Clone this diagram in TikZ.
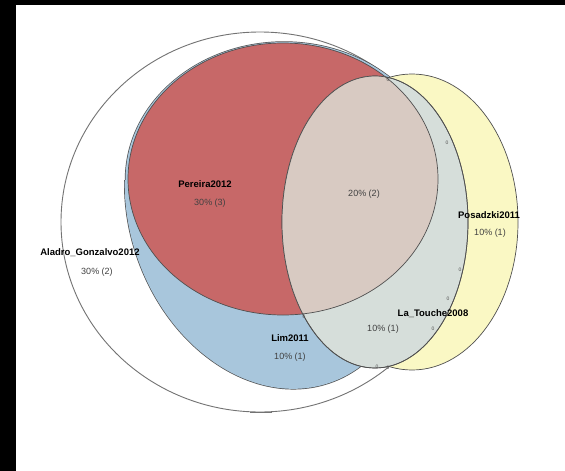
\documentclass[tikz,border=0pt]{standalone}
\usepackage{fontspec}
\setmainfont{Liberation Sans}
\definecolor{vred}{RGB}{199,104,104}
\definecolor{vblue}{RGB}{168,198,220}
\definecolor{vtan}{RGB}{216,202,194}
\definecolor{vgreen}{RGB}{214,222,218}
\definecolor{vyellow}{RGB}{250,248,196}
\definecolor{olgray}{RGB}{80,80,80}
\definecolor{outergray}{RGB}{115,115,115}
\definecolor{pctgray}{RGB}{65,65,65}
\begin{document}
\begin{tikzpicture}[x=1pt,y=-1pt,
  outl/.style={draw=olgray, line width=0.7pt},
  outerl/.style={draw=outergray, line width=0.9pt},
  setname/.style={font=\bfseries\fontsize{9.5}{10}\selectfont, text=black, inner sep=0pt},
  pct/.style={font=\fontsize{9}{10}\selectfont, text=pctgray, inner sep=0pt},
  zero/.style={font=\fontsize{5}{5}\selectfont, text=olgray, inner sep=0pt}]
\useasboundingbox (0,0) rectangle (565,471);
\fill[black] (0,0) rectangle (565,471);
\fill[white] (16,5) rectangle (565,471);
% Aladro_Gonzalvo2012
\filldraw[fill=white, outerl] (260,222) ellipse [x radius=199pt, y radius=190pt];
\draw[outergray, line width=1.4pt] (250,412.5) -- (272,412.5);
% Lim2011 : union of two ellipses (outline drawn double width, inner half covered)
\begin{scope}
  \clip (0,180) rectangle (565,471);
  \filldraw[fill=vblue, draw=olgray, line width=1.4pt, rotate around={20:(270,213)}]
    (270,213) ellipse [x radius=140pt, y radius=180pt];
\end{scope}
\filldraw[fill=vblue, draw=olgray, line width=1.4pt] (284,180) ellipse [x radius=158.5pt, y radius=138pt];
\begin{scope}
  \clip (0,180) rectangle (565,471);
  \fill[vblue, rotate around={20:(270,213)}] (270,213) ellipse [x radius=140pt, y radius=180pt];
\end{scope}
\fill[vblue] (284,180) ellipse [x radius=158.5pt, y radius=138pt];
% Pereira2012
\filldraw[fill=vred, outl] (283,179) ellipse [x radius=155pt, y radius=136pt];
% Posadzki2011
\filldraw[fill=vyellow, outl] (412,222) ellipse [x radius=106pt, y radius=148pt];
% La_Touche2008
\filldraw[fill=vgreen, outl] (375,222) ellipse [x radius=93pt, y radius=146pt];
% Pereira and La_Touche overlap
\begin{scope}
  \clip (283,179) ellipse [x radius=155pt, y radius=136pt];
  \fill[vtan] (375,222) ellipse [x radius=93pt, y radius=146pt];
\end{scope}
\begin{scope}
  \clip (375,222) ellipse [x radius=93pt, y radius=146pt];
  \draw[outl] (283,179) ellipse [x radius=155pt, y radius=136pt];
\end{scope}
\draw[outl] (375,222) ellipse [x radius=93pt, y radius=146pt];
% labels
\node[setname] (pername) at (205,184) {Pereira2012};
\node[pct] (perpct) at (210,203) {30\% (3)};
\node[pct] (tanpct) at (364,194) {20\% (2)};
\node[setname] (alaname) at (90,253) {Aladro\_Gonzalvo2012};
\node[pct] (alapct) at (97,272) {30\% (2)};
\node[setname] (posname) at (489,215) {Posadzki2011};
\node[pct] (pospct) at (490,233) {10\% (1)};
\node[setname] (laname) at (433,314) {La\_Touche2008};
\node[pct] (lapct) at (383,329) {10\% (1)};
\node[setname] (limname) at (290,338) {Lim2011};
\node[pct] (limpct) at (290,357) {10\% (1)};
% empty-region counts
\node[zero] (z1) at (388,80) {0};
\node[zero] (z2) at (447,143) {0};
\node[zero] (z3) at (304,317) {0};
\node[zero] (z4) at (377,367) {0};
\node[zero] (z5) at (388,368) {0};
\node[zero] (z6) at (460,270) {0};
\node[zero] (z7) at (448,299) {0};
\node[zero] (z8) at (433,329) {0};
\end{tikzpicture}
\end{document}
